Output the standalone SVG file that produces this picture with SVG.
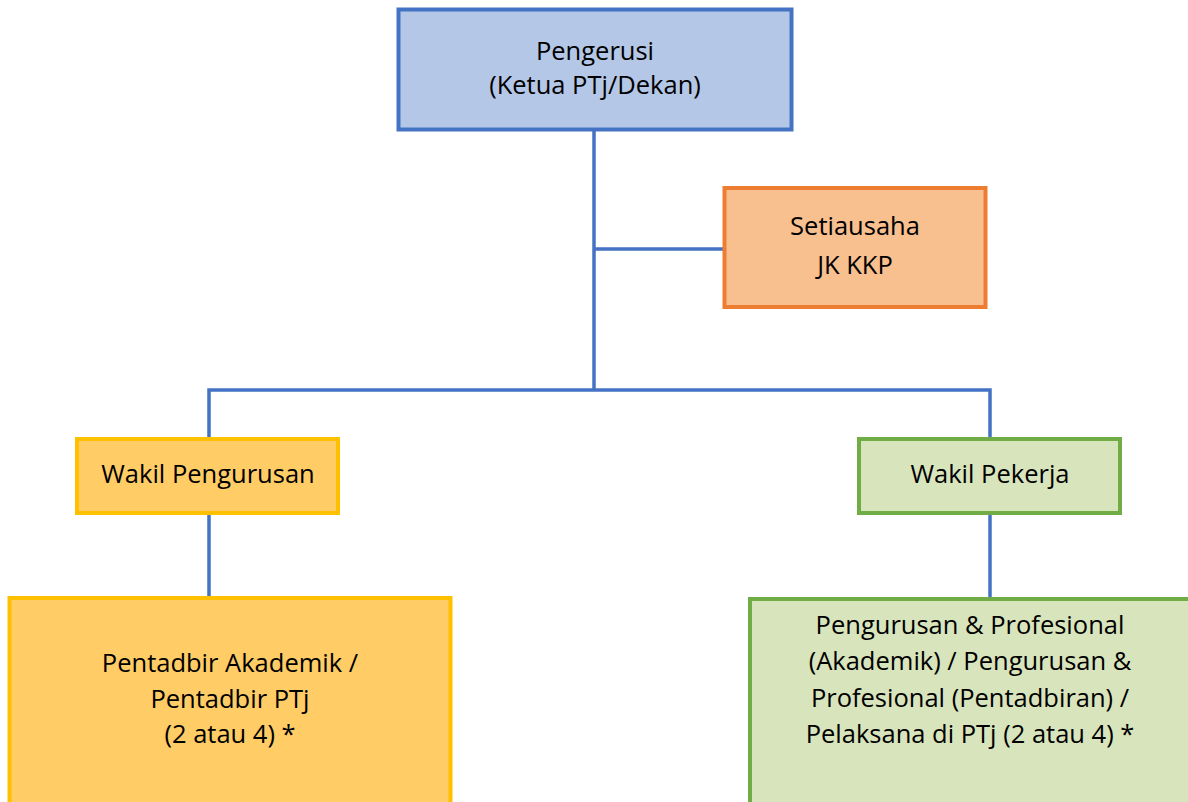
<svg xmlns="http://www.w3.org/2000/svg" width="1188" height="802" viewBox="0 0 1188 802">
<style>
text{font-family:"Open Sans","Liberation Sans",sans-serif;font-size:25.5px;fill:#000;text-anchor:middle}
.conn{stroke:#4472C4;stroke-width:3.5;fill:none}
.blue{fill:#B4C7E7;stroke:#4472C4;stroke-width:4}
.orange{fill:#F8BF8F;stroke:#ED7D31;stroke-width:4}
.gold{fill:#FFCC66;stroke:#FFC000;stroke-width:4}
.green{fill:#D8E4BC;stroke:#70AD47;stroke-width:4}
</style>
<rect width="1188" height="802" fill="#fff"/>
<g id="connectors">
<line class="conn" x1="594" y1="131" x2="594" y2="391"/>
<line class="conn" x1="594" y1="249" x2="724" y2="249"/>
<polyline class="conn" points="209,439 209,390 990,390 990,439"/>
<line class="conn" x1="209" y1="515" x2="209" y2="597"/>
<line class="conn" x1="990" y1="515" x2="990" y2="598"/>
</g>
<g id="pengerusi">
<rect class="blue" x="398.5" y="9.5" width="393" height="120"/>
<text x="595" y="60">Pengerusi</text>
<text x="595" y="94">(Ketua PTj/Dekan)</text>
</g>
<g id="setiausaha">
<rect class="orange" x="724.5" y="188" width="261" height="119"/>
<text x="855" y="235">Setiausaha</text>
<text x="855" y="274">JK KKP</text>
</g>
<g id="wakil-pengurusan">
<rect class="gold" x="77" y="439" width="261" height="74"/>
<text x="208" y="483">Wakil Pengurusan</text>
</g>
<g id="wakil-pekerja">
<rect class="green" x="859" y="439" width="261" height="74"/>
<text x="990" y="483">Wakil Pekerja</text>
</g>
<g id="pentadbir">
<rect class="gold" x="9.5" y="598" width="441" height="220"/>
<text x="230" y="672">Pentadbir Akademik /</text>
<text x="230" y="708">Pentadbir PTj</text>
<text x="230" y="743">(2 atau 4) *</text>
</g>
<g id="pengurusan-profesional">
<rect class="green" x="750" y="599" width="450" height="220"/>
<text x="970" y="634">Pengurusan &amp; Profesional</text>
<text x="970" y="670">(Akademik) / Pengurusan &amp;</text>
<text x="970" y="707">Profesional (Pentadbiran) /</text>
<text x="970" y="743">Pelaksana di PTj (2 atau 4) *</text>
</g>
</svg>
